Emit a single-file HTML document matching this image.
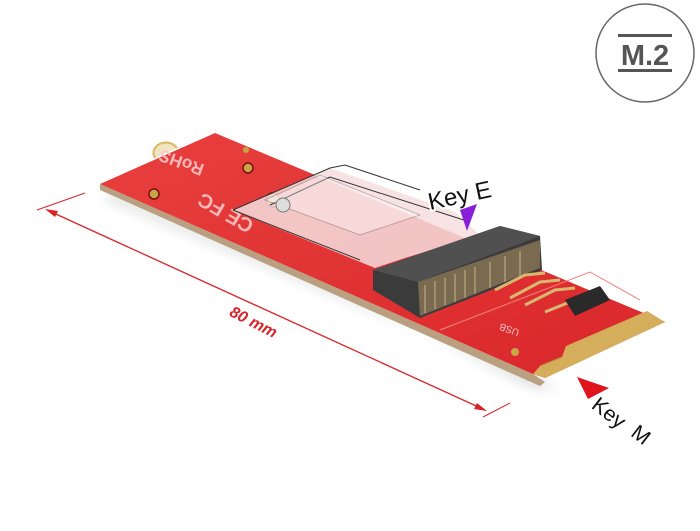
<!DOCTYPE html>
<html><head><meta charset="utf-8"><style>
html,body{margin:0;padding:0;background:#fff}
svg{display:block}
text{font-family:"Liberation Sans",sans-serif}
</style></head><body>
<svg width="700" height="531" viewBox="0 0 700 531" xmlns="http://www.w3.org/2000/svg">
<defs>
<filter id="sh" x="-20%" y="-20%" width="140%" height="160%"><feGaussianBlur stdDeviation="6"/></filter>
<linearGradient id="brd" x1="0" y1="0" x2="1" y2="1"><stop offset="0" stop-color="#e8403e"/><stop offset="1" stop-color="#d9262a"/></linearGradient>
</defs>
<polygon points="104,192 360,300 530,385 560,390 420,330 110,200" fill="#999" opacity="0.5" filter="url(#sh)"/>
<polygon points="100,184 533,374 545,382 540,386 100,190" fill="#b8a080"/>
<polygon points="100,184 215,133 665,322 545,378 533,374" fill="url(#brd)"/>
<path d="M155,158 a12,10 0 0 1 22,-10" fill="#f3e4c0" stroke="#d9b860" stroke-width="2"/>
<circle cx="154" cy="194" r="5" fill="#c9a645" stroke="#7a1010" stroke-width="1.5"/>
<circle cx="248" cy="168" r="5" fill="#c9a645" stroke="#7a1010" stroke-width="1.5"/>
<circle cx="246" cy="150" r="3" fill="#c9a645"/>
<circle cx="273" cy="200" r="7" fill="#c9a645" stroke="#8a1a10" stroke-width="2"/>
<circle cx="515" cy="352" r="4" fill="#c9a645"/>
<text x="0" y="0" transform="translate(205,165) rotate(-160)" font-size="17" fill="#f7c8c6" font-weight="bold" opacity="0.9">RoHS</text>
<text x="0" y="0" transform="translate(255,222) rotate(-150)" font-size="20" fill="#f4b8b6" font-weight="bold">CE FC</text>
<polygon points="233,210 330,168 455,212 480,235 405,258 375,268" fill="#f6dede" opacity="0.85"/>
<polyline points="233,210 330,168 345,165 420,190" fill="none" stroke="#333" stroke-width="1"/>
<polyline points="270,205 330,177 470,222" fill="none" stroke="#333" stroke-width="1"/>
<polyline points="233,210 360,260" fill="none" stroke="#333" stroke-width="1"/>
<polygon points="265,200 320,175 420,215 360,235" fill="#fff" opacity="0.35" stroke="#333" stroke-width="0.8"/>
<circle cx="283" cy="205" r="7" fill="#ddd" stroke="#777"/>
<polygon points="373,270 500,226 540,236 542,270 420,318 373,290" fill="#3b3b3b"/>
<polygon points="373,270 500,226 540,236 418,282" fill="#505050"/>
<polygon points="418,282 540,240 540,268 420,316" fill="#7a6a50"/>
<g stroke="#c9b48a" stroke-width="1">
<line x1="425" y1="285" x2="425" y2="313"/><line x1="435" y1="281" x2="435" y2="309"/><line x1="445" y1="278" x2="445" y2="305"/><line x1="455" y1="274" x2="455" y2="302"/><line x1="465" y1="270" x2="465" y2="298"/><line x1="475" y1="267" x2="475" y2="294"/><line x1="490" y1="262" x2="490" y2="288"/><line x1="505" y1="256" x2="505" y2="282"/><line x1="520" y1="251" x2="520" y2="277"/>
</g>
<g stroke="#d8b870" stroke-width="3" fill="none">
<polyline points="495,290 525,275 545,273"/><polyline points="510,298 540,282 560,280"/><polyline points="525,305 555,290 575,288"/><polyline points="545,312 580,298 605,296"/>
</g>
<polygon points="565,300 600,286 610,300 575,316" fill="#2a2a2a"/>
<polyline points="440,330 590,272 640,300" fill="none" stroke="#f08080" stroke-width="1"/>
<text x="0" y="0" transform="translate(520,330) rotate(-160)" font-size="10" fill="#f5c0c0">USB</text>
<polygon points="533,374 545,378 665,322 647,311 566,346 562,357 540,366" fill="#d4ae5a"/>
<line x1="540" y1="366" x2="562" y2="357" stroke="#b89040" stroke-width="1"/>
<line x1="37" y1="210" x2="85" y2="193" stroke="#d8232a" stroke-width="1"/>
<line x1="483" y1="417" x2="510" y2="403" stroke="#d8232a" stroke-width="1"/>
<line x1="47" y1="210" x2="485" y2="410" stroke="#d8232a" stroke-width="1.3"/>
<polygon points="45,209 58,211 55,217" fill="#d8232a"/>
<polygon points="487,411 474,409 477,403" fill="#d8232a"/>
<text x="0" y="0" transform="translate(253,323) rotate(27)" text-anchor="middle" dominant-baseline="middle" font-size="16" font-weight="bold" font-style="italic" fill="#d8232a">80 mm</text>
<text x="0" y="0" transform="translate(430,210) rotate(-12)" font-size="24" fill="#111" stroke="#fff" stroke-width="4" paint-order="stroke">Key E</text>
<polygon points="460,210 477,204 467,231" fill="#8a1fd8"/>
<polygon points="577,377 609,388 588,399" fill="#e0141c"/>
<text x="0" y="0" transform="translate(608,414) rotate(38)" text-anchor="middle" dominant-baseline="middle" font-size="21" fill="#111">Key</text>
<text x="0" y="0" transform="translate(640,436) rotate(38)" text-anchor="middle" dominant-baseline="middle" font-size="21" fill="#111">M</text>
<circle cx="645" cy="53" r="49" fill="#fff" stroke="#666" stroke-width="1.5"/>
<rect x="618" y="34" width="54" height="3" fill="#555"/>
<rect x="618" y="69" width="54" height="3" fill="#555"/>
<text x="645" y="65" text-anchor="middle" font-size="29" font-weight="bold" fill="#555">M.2</text>
</svg>
</body></html>
